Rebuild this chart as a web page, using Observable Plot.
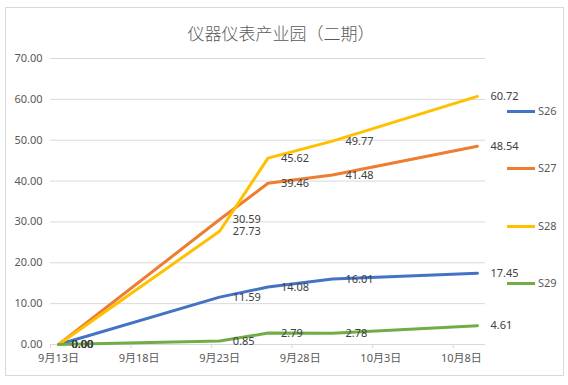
<!DOCTYPE html>
<html>
<head>
<meta charset="utf-8">
<script src="https://cdn.jsdelivr.net/npm/d3@7"></script>
<script src="https://cdn.jsdelivr.net/npm/@observablehq/plot@0.6"></script>
<style>
  body { margin: 0; background: #fff; }
  #chart { position: relative; width: 568px; height: 385px; font-family: "Noto Sans", "Noto Sans CJK SC", sans-serif; overflow: hidden; }
  #frame { position: absolute; left: 5px; top: 7px; width: 559px; height: 369px; border: 1px solid #d9d9d9; box-sizing: border-box; pointer-events: none; }
  #title { position: absolute; left: 0; top: 21px; width: 562px; text-align: center; font-family: "Noto Sans CJK SC", sans-serif; font-size: 17px; line-height: 24px; color: #595959; font-weight: 300; }
  #plot { position: absolute; left: 0; top: 0; }
  .leg { position: absolute; left: 507px; height: 14px; font-size: 11px; color: #595959; }
  .leg .sw { position: absolute; left: 0; top: 6px; width: 28px; height: 3px; }
  .leg .lb { position: absolute; left: 31px; top: -1px; line-height: 16px; }
</style>
</head>
<body>
<div id="chart">
  <div id="frame"></div>
  <div id="plot"></div>
  <div id="title">仪器仪表产业园（二期）</div>
</div>
<script>
const dates = ["2023-09-13", "2023-09-23", "2023-09-26", "2023-09-30", "2023-10-09"];
const seriesNames = ["S26", "S27", "S28", "S29"];
const s26 = [0, 11.59, 14.08, 16.01, 17.45];
const s27 = [0, 30.59, 39.46, 41.48, 48.54];
const s28 = [0, 27.73, 45.62, 49.77, 60.72];
const s29 = [0, 0.85, 2.79, 2.78, 4.61];
const colors = ["#4472C4", "#ED7D31", "#FFC000", "#70AD47"];
const yTicks = [0, 10, 20, 30, 40, 50, 60, 70];
const xTickDates = ["2023-09-13", "2023-09-18", "2023-09-23", "2023-09-28", "2023-10-03", "2023-10-08"];
const xTickLabels = ["9月13日", "9月18日", "9月23日", "9月28日", "10月3日", "10月8日"];
const xStart = "2023-09-13";
const xEnd = "2023-10-09";

const allSeries = [s26, s27, s28, s29];
const rows = [];
seriesNames.forEach((name, si) => {
  allSeries[si].forEach((v, i) => rows.push({series: name, date: new Date(dates[i]), value: v}));
});

const HALF_DAY = 12 * 3600 * 1000;
const labelDates = xTickDates.map(d => new Date(d));
const boundaryDates = labelDates.map(d => new Date(+d - HALF_DAY));
const domain = [new Date(+new Date(xStart) - HALF_DAY), new Date(+new Date(xEnd) + HALF_DAY)];

const chart = Plot.plot({
  width: 568,
  height: 385,
  marginLeft: 50,
  marginRight: 83,
  marginTop: 58,
  marginBottom: 41,
  style: { fontFamily: '"Noto Sans", "Noto Sans CJK SC", sans-serif', fontSize: "11px", background: "transparent", color: "#595959" },
  x: { type: "utc", domain, label: null },
  y: { domain: [0, 70], label: null },
  color: { domain: seriesNames, range: colors },
  marks: [
    Plot.ruleY(yTicks, { stroke: "#d9d9d9", strokeWidth: 1 }),
    Plot.axisY({ ticks: yTicks, tickFormat: d => d.toFixed(2), tickSize: 0, tickPadding: 8, fill: "#595959", label: null }),
    Plot.axisX({ ticks: boundaryDates, tickSize: 4, tickFormat: () => "", stroke: "#d9d9d9", strokeOpacity: 1, label: null }),
    Plot.axisX({ ticks: labelDates, tickSize: 0, tickPadding: 10, tickFormat: (d, i) => xTickLabels[i], fill: "#595959", label: null }),
    Plot.line(rows, { x: "date", y: "value", z: "series", stroke: "series", strokeWidth: 3, strokeLinejoin: "round" }),
    Plot.text(rows, { x: "date", y: "value", text: d => d.value.toFixed(2), dx: 13, textAnchor: "start", fill: "#404040", fontSize: 11 })
  ]
});
document.getElementById("plot").appendChild(chart);

const legendY = [111, 168, 226, 283];
const chartDiv = document.getElementById("chart");
seriesNames.forEach((name, i) => {
  const el = document.createElement("div");
  el.className = "leg";
  el.style.top = (legendY[i] - 7) + "px";
  el.innerHTML = `<div class="sw" style="background:${colors[i]}"></div><div class="lb">${name}</div>`;
  chartDiv.appendChild(el);
});
</script>
</body>
</html>
